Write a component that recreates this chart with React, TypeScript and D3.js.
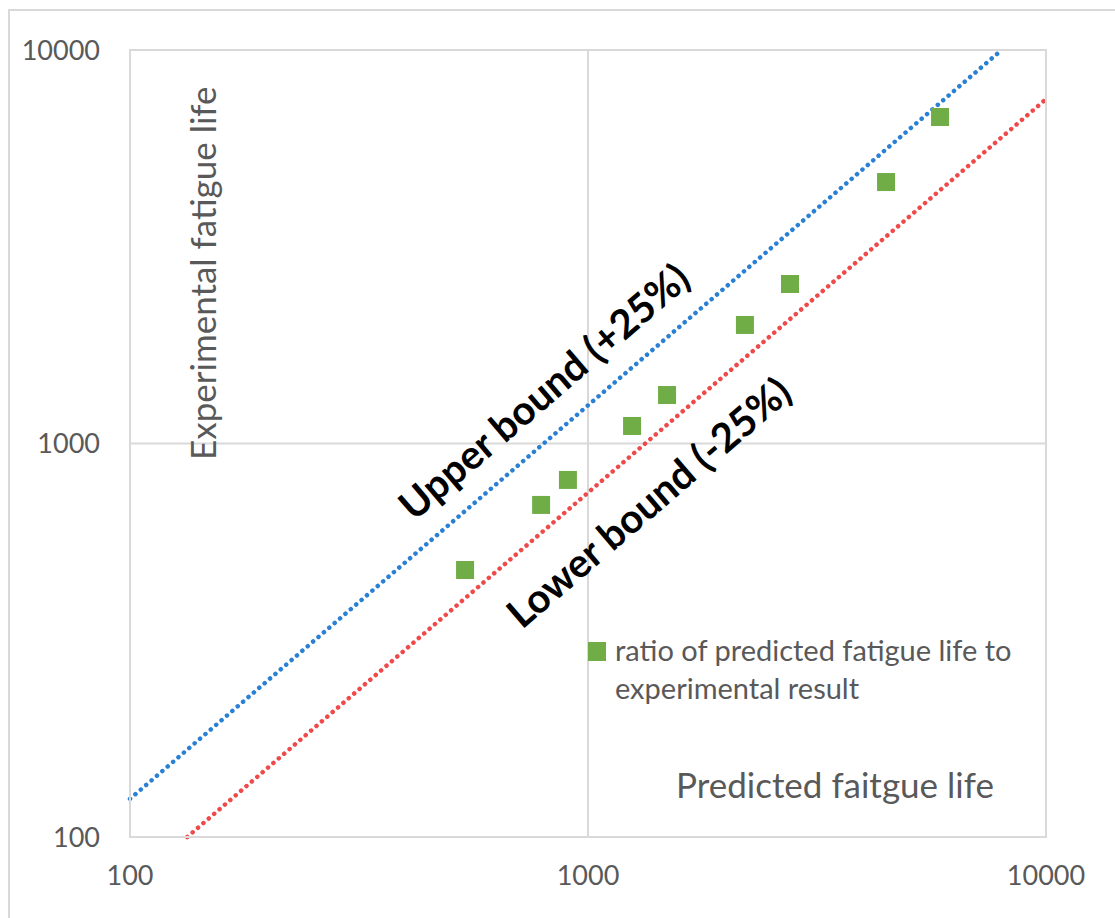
import React from "react";
import * as d3 from "d3";

// tested specimens: predicted life vs experimental life
const predicted = [539, 790, 904, 1248, 1488, 2201, 2761, 4475, 5870];
const experimental = [477, 698, 808, 1108, 1328, 2001, 2543, 4618, 6756];

const axisTicks = [100, 1000, 10000];
const upperFactor = 1.25;
const lowerFactor = 0.75;
const boundLine = [100, 10000];

const W = 1115;
const H = 918;
const frame = { left: 130, right: 1046, top: 50, bottom: 837 };

const FONT = "Lato, 'Open Sans', sans-serif";
const GRAY_TEXT = "#595959";
const GRID = "#d9d9d9";

export default function App() {
  const x = d3.scaleLog().domain([100, 10000]).range([frame.left, frame.right]);
  const y = d3.scaleLog().domain([100, 10000]).range([frame.bottom, frame.top]);

  const line = d3
    .line<[number, number]>()
    .x((d) => x(d[0]))
    .y((d) => y(d[1]));

  // clip the bound lines to the plot frame
  const upperPts: [number, number][] = [
    [100, 100 * upperFactor],
    [10000 / upperFactor, 10000],
  ];
  const lowerPts: [number, number][] = [
    [100 / lowerFactor, 100],
    [10000, 10000 * lowerFactor],
  ];

  const angle =
    (Math.atan2(y(boundLine[1]) - y(boundLine[0]), x(boundLine[1]) - x(boundLine[0])) * 180) /
    Math.PI;

  const sq = 18;

  return (
    <svg
      width={W}
      height={H}
      style={{ position: "absolute", left: 0, top: 0, background: "#fff" }}
      fontFamily={FONT}
    >
      <rect x={9} y={10} width={W + 20} height={H + 20} fill="#fff" stroke={GRID} strokeWidth={2} />

      {/* gridlines */}
      {axisTicks.map((t) => (
        <g key={t}>
          <line x1={x(t)} x2={x(t)} y1={frame.top} y2={frame.bottom} stroke={GRID} strokeWidth={2} />
          <line x1={frame.left} x2={frame.right} y1={y(t)} y2={y(t)} stroke={GRID} strokeWidth={2} />
        </g>
      ))}

      {/* tick labels */}
      {axisTicks.map((t) => (
        <text
          key={"y" + t}
          x={frame.left - 30}
          y={y(t)}
          dy="0.36em"
          textAnchor="end"
          fontSize={27}
          fill={GRAY_TEXT}
        >
          {t}
        </text>
      ))}
      {axisTicks.map((t) => (
        <text key={"x" + t} x={x(t)} y={885} textAnchor="middle" fontSize={27} fill={GRAY_TEXT}>
          {t}
        </text>
      ))}

      {/* bound lines */}
      <path
        d={line(upperPts) || ""}
        fill="none"
        stroke="#2a80d4"
        strokeWidth={4.5}
        strokeDasharray="0.1 7"
        strokeLinecap="round"
      />
      <path
        d={line(lowerPts) || ""}
        fill="none"
        stroke="#ef4a4a"
        strokeWidth={4.5}
        strokeDasharray="0.1 7"
        strokeLinecap="round"
      />

      {/* data points */}
      {predicted.map((p, i) => (
        <rect
          key={i}
          x={x(p) - sq / 2}
          y={y(experimental[i]) - sq / 2}
          width={sq}
          height={sq}
          fill="#70ad47"
        />
      ))}

      {/* annotations */}
      <text
        transform={`translate(414,522) rotate(${angle})`}
        fontSize={40}
        fontWeight="bold"
        fill="#000"
      >
        Upper bound (+25%)
      </text>
      <text
        transform={`translate(522,630) rotate(${angle})`}
        fontSize={40}
        fontWeight="bold"
        fill="#000"
      >
        Lower bound (-25%)
      </text>

      {/* legend */}
      <rect x={588} y={642} width={18} height={19} fill="#70ad47" />
      <text x={615} y={661} fontSize={29} fill={GRAY_TEXT}>
        ratio of predicted fatigue life to
      </text>
      <text x={615} y={699} fontSize={29} fill={GRAY_TEXT}>
        experimental result
      </text>

      {/* axis titles */}
      <text x={676} y={798} fontSize={35} fill={GRAY_TEXT}>
        Predicted faitgue life
      </text>
      <text transform="translate(216,460) rotate(-90)" fontSize={35} fill={GRAY_TEXT}>
        Experimental fatigue life
      </text>

      {/* plot frame */}
      <rect
        x={frame.left}
        y={frame.top}
        width={frame.right - frame.left}
        height={frame.bottom - frame.top}
        fill="none"
        stroke={GRID}
        strokeWidth={2}
      />
    </svg>
  );
}
